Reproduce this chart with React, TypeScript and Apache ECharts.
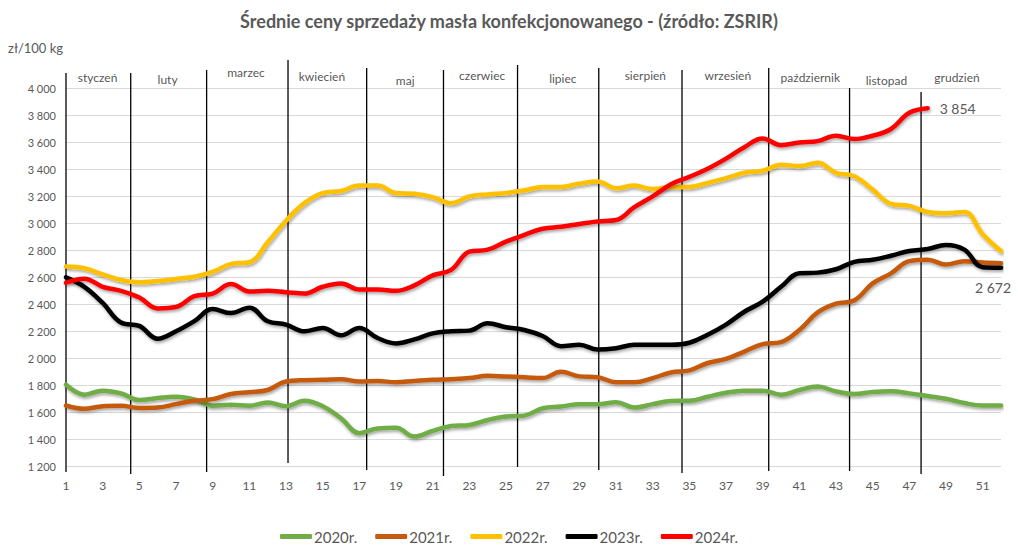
import React, { useEffect, useRef } from "react";
import * as echarts from "echarts";

// ---------- data ----------
const weeks: number[] = Array.from({ length: 52 }, (_, i) => i + 1);

const seriesNames = ["2020r.", "2021r.", "2022r.", "2023r.", "2024r."];

const v2020 = [1805, 1730, 1760, 1740, 1690, 1705, 1715, 1695, 1648, 1655, 1648, 1672, 1645, 1685, 1645, 1555, 1445, 1480, 1485, 1420, 1462, 1498, 1506, 1543, 1568, 1575, 1630, 1642, 1660, 1660, 1674, 1635, 1660, 1684, 1685, 1715, 1745, 1760, 1760, 1730, 1765, 1790, 1755, 1735, 1750, 1755, 1740, 1720, 1700, 1668, 1650, 1650];
const v2021 = [1650, 1625, 1645, 1648, 1632, 1635, 1660, 1685, 1697, 1735, 1748, 1765, 1828, 1838, 1840, 1845, 1828, 1832, 1822, 1832, 1840, 1845, 1853, 1870, 1865, 1860, 1853, 1900, 1866, 1860, 1822, 1822, 1853, 1895, 1910, 1965, 1995, 2050, 2105, 2120, 2210, 2340, 2405, 2430, 2555, 2630, 2720, 2730, 2695, 2720, 2710, 2705];
const v2022 = [2680, 2667, 2622, 2580, 2563, 2573, 2588, 2605, 2640, 2700, 2712, 2860, 3020, 3150, 3225, 3240, 3280, 3280, 3225, 3220, 3195, 3150, 3200, 3215, 3225, 3245, 3270, 3270, 3295, 3310, 3260, 3280, 3255, 3270, 3270, 3300, 3335, 3375, 3390, 3435, 3425, 3450, 3375, 3350, 3250, 3145, 3130, 3085, 3075, 3085, 2920, 2795];
const v2023 = [2600, 2530, 2410, 2265, 2240, 2145, 2200, 2275, 2365, 2335, 2375, 2275, 2250, 2200, 2225, 2170, 2225, 2150, 2110, 2140, 2185, 2200, 2205, 2260, 2230, 2210, 2165, 2090, 2100, 2065, 2075, 2100, 2100, 2100, 2115, 2175, 2250, 2345, 2420, 2530, 2630, 2635, 2660, 2715, 2730, 2760, 2795, 2810, 2840, 2805, 2675, 2672];
const v2024 = [2560, 2590, 2530, 2500, 2450, 2370, 2380, 2460, 2480, 2550, 2495, 2500, 2490, 2480, 2530, 2555, 2510, 2510, 2500, 2540, 2615, 2655, 2790, 2805, 2865, 2915, 2960, 2975, 2995, 3015, 3025, 3120, 3200, 3290, 3345, 3405, 3480, 3565, 3630, 3580, 3600, 3610, 3650, 3625, 3650, 3700, 3820, 3854];

const monthNames = ["styczeń", "luty", "marzec", "kwiecień", "maj", "czerwiec", "lipiec", "sierpień", "wrzesień", "październik", "listopad", "grudzień"];

// month separator positions (in week units) – hand-drawn lines in the original
const separatorWeeks = [1.0, 4.53, 8.67, 13.11, 17.4, 21.59, 25.63, 30.06, 34.6, 39.33, 43.74, 47.64];

// ---------- layout (positions of hand-drawn marks, in axis units) ----------
const separatorTop = [4115, 4115, 4137, 4211, 4152, 4137, 4174, 4152, 4137, 4152, 4004, 3974];
const separatorBottom = [1157, 1142, 1157, 1224, 1172, 1127, 1194, 1172, 1150, 1164, 1164, 1142];
const monthLabelWeek = [2.72, 6.54, 10.82, 14.96, 19.5, 23.7, 28.1, 32.6, 37.1, 41.6, 45.75, 49.6];
const monthLabelValue = [4085, 4070, 4115, 4090, 4063, 4100, 4075, 4100, 4100, 4085, 4063, 4078];

const colors = ["#70ad47", "#c55a11", "#ffc000", "#000000", "#ff0000"];
const FONT = "Lato, 'Open Sans', sans-serif";

const fmt = (v: number) => String(Math.round(v)).replace(/\B(?=(\d{3})+(?!\d))/g, " ");

export default function App() {
  const ref = useRef<HTMLDivElement>(null);

  useEffect(() => {
    if (!ref.current) return;
    const chart = echarts.init(ref.current, undefined, { renderer: "svg" });
    const values = [v2020, v2021, v2022, v2023, v2024];

    const dataSeries: any[] = values.map((vals, si) => {
      const s: any = {
        name: seriesNames[si],
        type: "line",
        data: vals.map((v, i) => [weeks[i], v]),
        smooth: 0.4,
        showSymbol: false,
        symbol: "none",
        z: 5 + si,
        lineStyle: {
          width: 4.5,
          color: colors[si],
          cap: "round",
          join: "round",
          shadowColor: "rgba(0,0,0,0.35)",
          shadowBlur: 3,
          shadowOffsetX: 1,
          shadowOffsetY: 2,
        },
        itemStyle: { color: colors[si] },
      };
      if (si === 4) {
        s.endLabel = {
          show: true,
          formatter: (p: any) => fmt(p.value[1]),
          distance: 12,
          color: "#595959",
          fontSize: 14,
          fontFamily: FONT,
        };
      }
      if (si === 3) {
        s.endLabel = {
          show: true,
          formatter: (p: any) => fmt(p.value[1]),
          distance: 0,
          offset: [-26, 20],
          color: "#595959",
          fontSize: 14,
          fontFamily: FONT,
        };
      }
      return s;
    });

    const sepSeries: any[] = separatorWeeks.map((w, i) => ({
      name: "sep" + i,
      type: "line",
      data: [
        [w, separatorBottom[i]],
        [w, separatorTop[i]],
      ],
      clip: false,
      silent: true,
      symbol: "none",
      z: 3,
      lineStyle: { color: "#000000", width: 1.3 },
    }));

    const monthSeries = {
      name: "months",
      type: "scatter",
      clip: false,
      silent: true,
      symbolSize: 1,
      z: 4,
      itemStyle: { color: "rgba(0,0,0,0)" },
      data: monthNames.map((m, i) => ({ value: [monthLabelWeek[i], monthLabelValue[i]], name: m })),
      label: {
        show: true,
        position: "inside",
        formatter: (p: any) => p.name,
        color: "#262626",
        fontSize: 12,
        fontFamily: FONT,
        backgroundColor: "#ffffff",
        padding: [1, 4, 1, 4],
      },
    };

    chart.setOption({
      animation: false,
      backgroundColor: "#ffffff",
      title: {
        text: "Średnie ceny sprzedaży masła konfekcjonowanego - (źródło: ZSRIR)",
        left: "center",
        top: 7,
        textStyle: { fontFamily: FONT, fontSize: 18, fontWeight: "bold", color: "#595959" },
      },
      graphic: [
        {
          type: "text",
          left: 8,
          top: 41,
          style: { text: "zł/100 kg", fontFamily: FONT, fontSize: 13, fill: "#595959" },
        },
      ],
      legend: {
        data: seriesNames,
        bottom: 11,
        left: "center",
        icon: "roundRect",
        itemWidth: 32,
        itemHeight: 5,
        itemGap: 18,
        textStyle: { fontFamily: FONT, fontSize: 15, color: "#595959", padding: [0, 0, 0, -3] },
      },
      grid: { left: 66, right: 17, top: 88.5, bottom: 93.8, containLabel: false },
      xAxis: {
        type: "value",
        min: 1,
        max: 52,
        interval: 1,
        axisLine: { show: false },
        axisTick: { show: false },
        splitLine: { show: false },
        axisLabel: {
          margin: 13,
          color: "#595959",
          fontSize: 12,
          fontFamily: FONT,
          formatter: (v: number) => (v % 2 === 1 ? String(v) : ""),
        },
      },
      yAxis: {
        type: "value",
        min: 1200,
        max: 4000,
        interval: 200,
        axisLine: { show: false },
        axisTick: { show: false },
        splitLine: { lineStyle: { color: "#d9d9d9", width: 1 } },
        axisLabel: {
          margin: 10,
          color: "#595959",
          fontSize: 11,
          fontFamily: FONT,
          formatter: (v: number) => fmt(v),
        },
      },
      series: [...sepSeries, monthSeries, ...dataSeries],
    });

    return () => chart.dispose();
  }, []);

  return <div ref={ref} style={{ position: "fixed", left: 0, top: 0, width: 1018, height: 560 }} />;
}
